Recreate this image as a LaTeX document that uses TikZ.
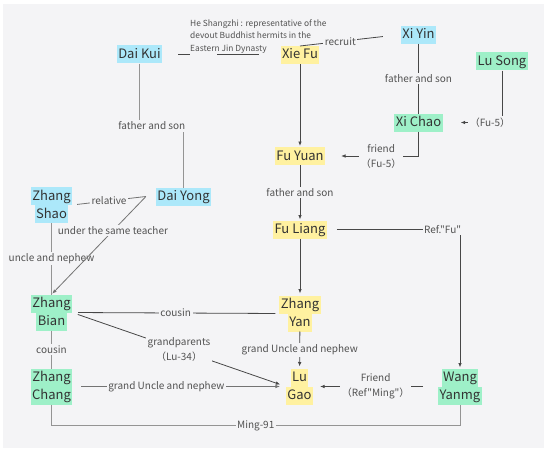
\documentclass[tikz,border=0pt]{standalone}
\usepackage{fontspec}
\setmainfont{Noto Sans CJK SC}[Ligatures=TeXOff]
\usetikzlibrary{arrows.meta,positioning,calc}
\definecolor{CanvasGray}{RGB}{244,244,246}
\definecolor{HermitBlue}{RGB}{172,232,250}
\definecolor{FuYellow}{RGB}{255,241,160}
\definecolor{KinGreen}{RGB}{158,240,200}
\newcommand{\hlname}[2]{{\setlength{\fboxsep}{0pt}\colorbox{#1}{\rule[-5pt]{0pt}{18pt}\hspace{1.5pt}#2\hspace{1.5pt}}}}
\newcommand{\inblue}[1]{\hlname{HermitBlue}{#1}}
\newcommand{\inyellow}[1]{\hlname{FuYellow}{#1}}
\newcommand{\ingreen}[1]{\hlname{KinGreen}{#1}}
\tikzset{
  person/.style={inner sep=0pt, outer sep=0pt, align=center, text=black!80,
    font=\fontsize{13}{18}\selectfont},
  relnote/.style={fill=CanvasGray, inner sep=1.5pt, align=center, text=black!68,
    font=\fontsize{10}{15}\selectfont},
  hermitnote/.style={inner sep=0pt, align=left, text=black!68,
    font=\fontsize{8.4}{12.5}\selectfont},
  darkline/.style={draw=black!72, line width=0.8pt},
  midline/.style={draw=black!55, line width=0.8pt},
  softline/.style={draw=black!42, line width=0.8pt},
  kinarrow/.style={-{Latex[length=4.5pt,width=3.6pt]}}
}
\begin{document}
\begin{tikzpicture}[x=1pt, y=-1pt]
  \useasboundingbox (0,0) rectangle (550,455);
  \fill[white] (0,0) rectangle (550,455);
  \fill[CanvasGray] (3,4) rectangle (544,448);
  % people
  \node[person] (daikui) at (139.5,54.5) {\inblue{Dai Kui}};
  \node[person] (xiefu) at (300,55) {\inyellow{Xie Fu}};
  \node[person] (xiyin) at (418.5,34.5) {\inblue{Xi Yin}};
  \node[person] (lusong) at (502,61.5) {\ingreen{Lu Song}};
  \node[person] (xichao) at (418.5,122.5) {\ingreen{Xi Chao}};
  \node[person] (fuyuan) at (300,156) {\inyellow{Fu Yuan}};
  \node[person] (fuliang) at (300,229.5) {\inyellow{Fu Liang}};
  \node[person] (daiyong) at (183.5,196.5) {\inblue{Dai Yong}};
  \node[person] (zhangshao) at (51.5,205) {\inblue{Zhang}\\\inblue{Shao}};
  \node[person] (zhangbian) at (51.5,312.5) {\ingreen{Zhang}\\\ingreen{Bian}};
  \node[person] (zhangchang) at (51.5,386.5) {\ingreen{Zhang}\\\ingreen{Chang}};
  \node[person] (zhangyan) at (300,313.5) {\inyellow{Zhang}\\\inyellow{Yan}};
  \node[person] (lugao) at (299.5,386.5) {\inyellow{Lu}\\\inyellow{Gao}};
  \node[person] (wangyanmg) at (460,386.5) {\ingreen{Wang}\\\ingreen{Yanmg}};
  \node[hermitnote, anchor=west] (hsz) at (190,36.5) {He Shangzhi : representative of the\\devout Buddhist hermits in the\\Eastern Jin Dynasty};
  \coordinate (daiyongW) at ([xshift=-10pt]daiyong.west);
  \coordinate (jinstart) at (217,54);
  \coordinate (jinend) at (259,54);
  % links
  \draw[darkline, shorten <=16pt] (daikui.east) -- (daikui.east -| hsz.west);
  \draw[darkline] (jinstart) -- (jinend);
  \draw[darkline, shorten >=18pt] (xiefu.north) -- node[relnote, pos=0.4]{recruit} (xiyin.west);
  \draw[softline] (daikui.south) -- (daikui.south |- 0,126) -| node[relnote, pos=0.14]{father and son} (daiyong.north);
  \draw[darkline] (xiyin) -- node[relnote]{father and son} (xichao);
  \draw[darkline, kinarrow, shorten >=18pt] (lusong.south) |- node[relnote, pos=0.5, xshift=-12pt]{（Fu-5）} (xichao.east);
  \draw[darkline, kinarrow, shorten >=16pt] (xichao.south) |- node[relnote, pos=0.7]{friend\\（Fu-5）} (fuyuan.east);
  \draw[darkline, kinarrow, shorten >=1pt] (xiefu) -- (fuyuan);
  \draw[darkline, kinarrow, shorten >=1pt] (fuyuan) -- node[relnote]{father and son} (fuliang);
  \draw[darkline, kinarrow, shorten >=2pt] (fuliang) -- (zhangyan);
  \draw[darkline, kinarrow, shorten <=10pt, shorten >=1pt] (fuliang.east) -| node[relnote, pos=0.5, anchor=east, xshift=3pt]{Ref."Fu"} (wangyanmg.north);
  \draw[midline, shorten <=5pt] (zhangshao.east) -- node[relnote]{relative} (daiyongW);
  \draw[softline] (zhangshao) -- node[relnote]{uncle and nephew} (zhangbian);
  \draw[midline, kinarrow, shorten >=1pt] (daiyongW) -- node[relnote, pos=0.35]{under the same teacher} (zhangbian.north);
  \draw[softline] (zhangbian) -- node[relnote]{cousin} (zhangchang);
  \draw[darkline, shorten <=6pt, shorten >=4pt] (zhangbian.east) -- node[relnote]{cousin} (zhangyan.west);
  \draw[darkline, kinarrow, shorten <=6pt, shorten >=6pt] (zhangbian.east) -- node[relnote]{grandparents\\（Lu-34）} (lugao.west);
  \draw[midline, kinarrow, shorten <=9pt, shorten >=6pt] (zhangchang.east) -- node[relnote, pos=0.44]{grand Uncle and nephew} (lugao.west);
  \draw[darkline, kinarrow, shorten >=2pt] (zhangyan) -- node[relnote]{grand Uncle and nephew} (lugao);
  \draw[darkline, kinarrow, shorten <=15pt, shorten >=7pt] (wangyanmg.west) -- node[relnote]{Friend\\（Ref"Ming"）} (lugao.east);
  \draw[softline] (zhangchang.south) -- ++(0,21) -| node[relnote, pos=0.25]{Ming-91} (wangyanmg.south);
\end{tikzpicture}
\end{document}
